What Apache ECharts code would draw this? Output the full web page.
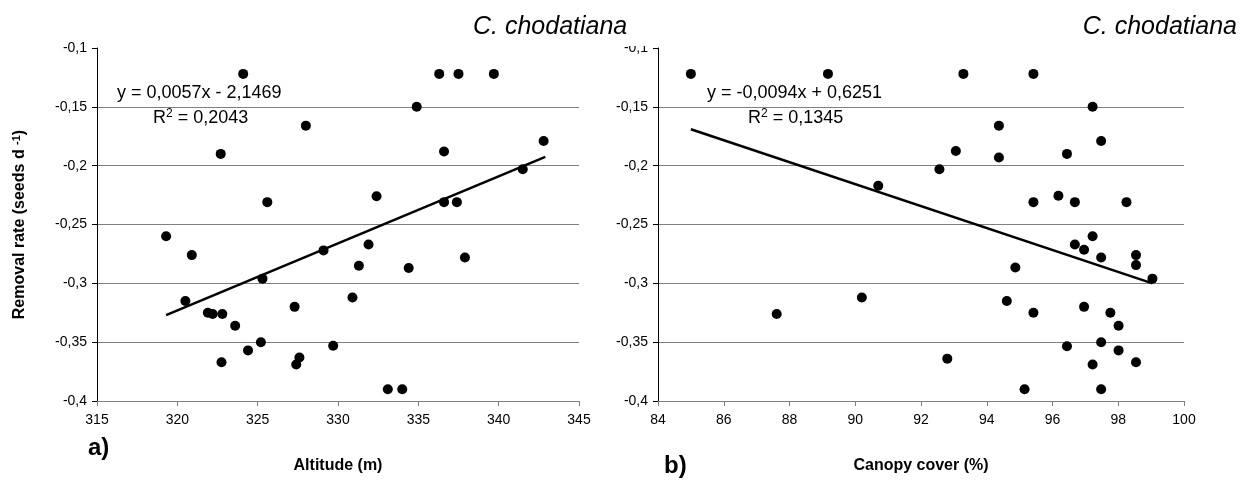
<!DOCTYPE html>
<html>
<head>
<meta charset="utf-8">
<script src="https://cdn.jsdelivr.net/npm/echarts@6/dist/echarts.min.js"></script>
<style>
  html, body { margin: 0; padding: 0; background: #fff; }
  #main { width: 1246px; height: 481px; }
</style>
</head>
<body>
<div id="main"></div>
<script>
// a) altitude
var altX = [324.1, 336.3, 337.5, 339.7, 334.9, 328.0, 322.7, 336.6, 342.8, 341.5, 332.4, 325.6, 336.6, 337.4, 319.3, 320.9, 329.1, 331.9, 331.3, 334.4, 337.9, 325.3, 320.5, 330.9, 321.9, 322.2, 322.8, 327.3, 323.6, 325.2, 324.4, 322.75, 327.4, 327.6, 329.7, 333.1, 334.0]
var altY = [-0.122, -0.122, -0.122, -0.122, -0.150, -0.166, -0.190, -0.188, -0.179, -0.203, -0.226, -0.231, -0.231, -0.231, -0.260, -0.276, -0.272, -0.267, -0.285, -0.287, -0.278, -0.296, -0.315, -0.312, -0.325, -0.326, -0.326, -0.320, -0.336, -0.350, -0.357, -0.367, -0.369, -0.363, -0.353, -0.390, -0.390]
var altTrend = [[319.3, -0.327], [342.9, -0.1925]]

// b) canopy cover
var canX = [85.0, 89.17, 93.29, 95.42, 97.22, 94.37, 97.48, 93.06, 96.44, 94.37, 92.56, 90.70, 96.18, 95.42, 96.68, 98.25, 97.22, 96.68, 96.96, 97.48, 98.54, 98.54, 94.87, 99.04, 90.20, 94.61, 87.61, 95.42, 96.96, 97.76, 98.01, 97.48, 96.44, 98.01, 92.80, 98.54, 97.22, 95.15, 97.48]
var canY = [-0.122, -0.122, -0.122, -0.122, -0.150, -0.166, -0.179, -0.1875, -0.190, -0.193, -0.203, -0.217, -0.2255, -0.231, -0.231, -0.231, -0.260, -0.267, -0.2715, -0.278, -0.276, -0.2845, -0.2865, -0.296, -0.312, -0.315, -0.326, -0.325, -0.320, -0.325, -0.336, -0.350, -0.3535, -0.357, -0.364, -0.367, -0.369, -0.390, -0.390]
var canTrend = [[85.0, -0.169], [99.04, -0.300]]

var yTicks = { min: -0.4, max: -0.1, interval: 0.05 }
var altTicks = { min: 315, max: 345, interval: 5 }
var canTicks = { min: 84, max: 100, interval: 2 }

function zip(xs, ys) {
  return xs.map(function(x, i) { return [x, ys[i]] })
}
function comma(v) {
  return String(v).replace('.', ',')
}

var font = 'Liberation Sans, Arial, sans-serif'
var gray = '#808080'

function xAxisOf(idx, ticks, name) {
  return {
    type: 'value', gridIndex: idx,
    min: ticks.min, max: ticks.max, interval: ticks.interval,
    name: name, nameLocation: 'middle', nameGap: 57,
    nameTextStyle: { fontFamily: font, fontSize: 16, fontWeight: 'bold', color: '#000' },
    axisLine: { lineStyle: { color: gray, width: 1 } },
    axisTick: { inside: false, length: 5, lineStyle: { color: gray } },
    axisLabel: { fontFamily: font, fontSize: 14, color: '#000', margin: 12 },
    splitLine: { show: false }
  }
}
function yAxisOf(idx, withName) {
  var ax = {
    type: 'value', gridIndex: idx,
    min: yTicks.min, max: yTicks.max, interval: yTicks.interval,
    axisLine: { show: true, lineStyle: { color: '#000', width: 1 } },
    axisTick: { show: true, inside: false, length: 5, lineStyle: { color: '#000' } },
    axisLabel: { fontFamily: font, fontSize: 14, color: '#000', margin: 10, formatter: comma },
    splitLine: { show: true, showMaxLine: false, lineStyle: { color: gray, width: 1 } }
  }
  if (withName) {
    ax.name = 'Removal rate (seeds d {sup|-1})'
    ax.nameLocation = 'middle'
    ax.nameGap = 68
    ax.nameTextStyle = {
      fontFamily: font, fontSize: 16, fontWeight: 'bold', color: '#000',
      rich: { sup: { fontFamily: font, fontSize: 11, fontWeight: 'bold', verticalAlign: 'top', padding: [0, 0, 7, 0] } }
    }
  }
  return ax
}

function dots(idx, xs, ys) {
  return {
    type: 'scatter', xAxisIndex: idx, yAxisIndex: idx,
    symbol: 'circle', symbolSize: 10,
    itemStyle: { color: '#000', opacity: 1 },
    data: zip(xs, ys)
  }
}
function trend(idx, pts) {
  return {
    type: 'line', xAxisIndex: idx, yAxisIndex: idx,
    symbol: 'none', silent: true,
    lineStyle: { color: '#000', width: 2.5 },
    data: pts, z: 1
  }
}

function label(x, y, text, size, extra) {
  var style = {
    x: x, y: y, text: text,
    fontFamily: font, fontSize: size, fill: '#000',
    verticalAlign: 'middle', align: 'left'
  }
  for (var k in extra) style[k] = extra[k]
  return { type: 'text', z: 100, style: style }
}
var supRich = { sup: { fontFamily: font, fontSize: 12, verticalAlign: 'top', padding: [0, 0, 8, 0] } }

var myChart = echarts.init(document.getElementById('main'))
var option = {
  animation: false,
  backgroundColor: '#fff',
  grid: [
    { left: 97, top: 48, width: 482, height: 353 },
    { left: 658, top: 48, width: 526, height: 353 }
  ],
  xAxis: [xAxisOf(0, altTicks, 'Altitude (m)'), xAxisOf(1, canTicks, 'Canopy cover (%)')],
  yAxis: [yAxisOf(0, true), yAxisOf(1, false)],
  series: [
    trend(0, altTrend), dots(0, altX, altY),
    trend(1, canTrend), dots(1, canX, canY)
  ],
  graphic: [
    // white box of the left title hides the top of the right axis labels
    { type: 'rect', z: 90, shape: { x: 460, y: 0, width: 196, height: 46 }, style: { fill: '#fff' } },
    label(473, 27, 'C. chodatiana', 25, { fontStyle: 'italic' }),
    label(1237, 27, 'C. chodatiana', 25, { fontStyle: 'italic', align: 'right' }),
    label(117, 93, 'y = 0,0057x - 2,1469', 18),
    label(153, 118, 'R{sup|2} = 0,2043', 18, { rich: supRich }),
    label(707, 93, 'y = -0,0094x + 0,6251', 18),
    label(748, 118, 'R{sup|2} = 0,1345', 18, { rich: supRich }),
    label(88, 448, 'a)', 24, { fontWeight: 'bold' }),
    label(664, 466, 'b)', 24, { fontWeight: 'bold' })
  ]
}
myChart.setOption(option)
</script>
</body>
</html>
